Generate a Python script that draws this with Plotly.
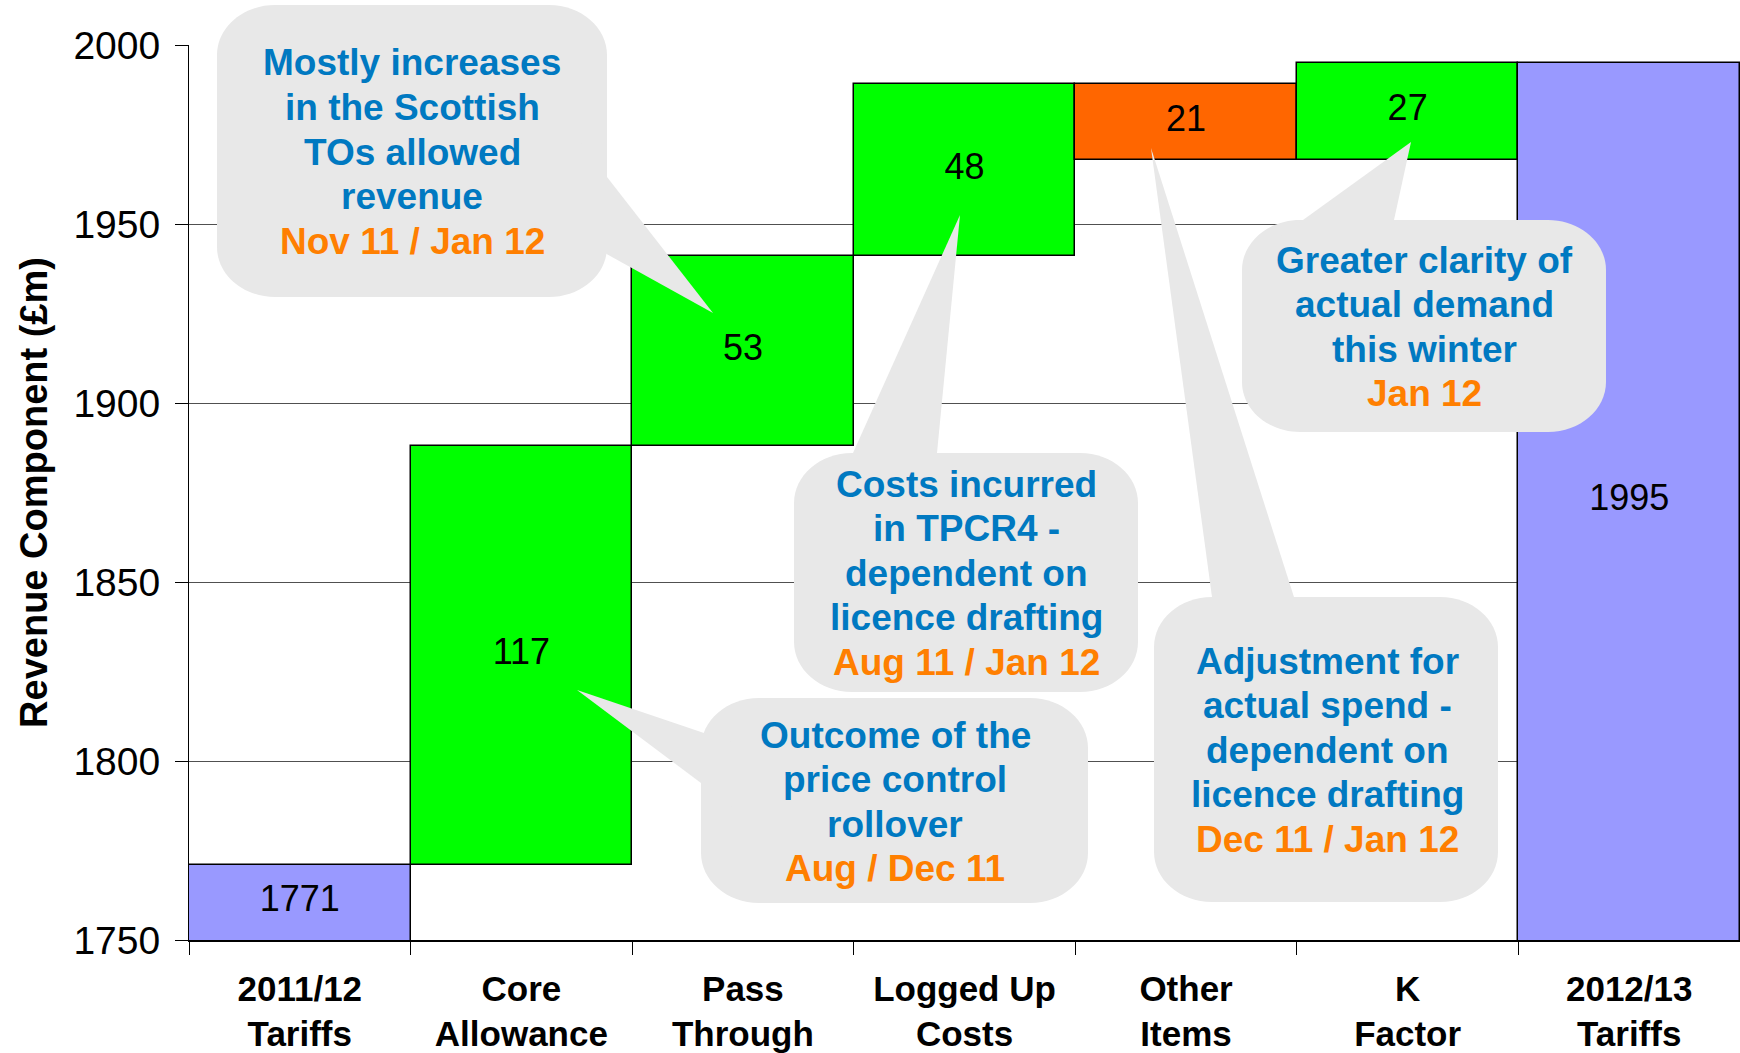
import plotly.graph_objects as go

# ---------------- data ----------------
categories = ["2011/12 Tariffs", "Core Allowance", "Pass Through", "Logged Up Costs",
              "Other Items", "K Factor", "2012/13 Tariffs"]
tick_labels = ["2011/12<br>Tariffs", "Core<br>Allowance", "Pass<br>Through", "Logged Up<br>Costs",
               "Other<br>Items", "K<br>Factor", "2012/13<br>Tariffs"]
values = [1771, 117, 53, 48, -21, 27, 1995]
measures = ["total", "increase", "increase", "increase", "decrease", "increase", "total"]
bar_labels = ["1771", "117", "53", "48", "21", "27", "1995"]
y_min, y_max = 1750, 2000
y_ticks = [1750, 1800, 1850, 1900, 1950, 2000]

callout_lines = [
    ["Mostly increases", "in the Scottish", "TOs allowed", "revenue"],
    ["Outcome of the", "price control", "rollover"],
    ["Costs incurred", "in TPCR4 -", "dependent on", "licence drafting"],
    ["Adjustment for", "actual spend -", "dependent on", "licence drafting"],
    ["Greater clarity of", "actual demand", "this winter"],
]
callout_dates = ["Nov 11 / Jan 12", "Aug / Dec 11", "Aug 11 / Jan 12", "Dec 11 / Jan 12", "Jan 12"]

# ---------------- styling ----------------
W, H = 1740, 1053
L, R, T, B = 189, 0, 45, 113
PW, PH = W - L - R, H - T - B
FONT = "Liberation Sans, Arial, Helvetica, sans-serif"
COL = {"total": "#9999FF", "increase": "#00FF00", "decrease": "#FF6600"}
BLUE, ORANGE, GREY = "#0079C1", "#FF7F00", "#E8E8E8"

# waterfall geometry from data
bases, heights, mids = [], [], []
running = 0
for v, m in zip(values, measures):
    if m == "total":
        b, h = 0, v
        running = v
    else:
        b = running if v >= 0 else running + v
        h = abs(v)
        running += v
    bases.append(b)
    heights.append(h)
    lo = max(b, y_min)
    mids.append((lo + b + h) / 2)

fig = go.Figure()
fig.add_trace(go.Bar(
    x=categories, y=heights, base=bases, width=1,
    marker=dict(color=[COL[m] for m in measures], line=dict(color="black", width=1.5)),
    showlegend=False, hoverinfo="skip"))
fig.add_trace(go.Scatter(
    x=categories, y=mids, mode="text", text=bar_labels,
    textfont=dict(family=FONT, size=36, color="black"),
    showlegend=False, hoverinfo="skip"))


def px(x):
    return (x - L) / PW


def py(y):
    return (T + PH - y) / PH


def rrect_path(x0, y0, x1, y1, rx=58, ry=50):
    k = 0.5523
    pts = [
        ("M", [(x0 + rx, y0)]),
        ("L", [(x1 - rx, y0)]),
        ("C", [(x1 - rx + k * rx, y0), (x1, y0 + ry - k * ry), (x1, y0 + ry)]),
        ("L", [(x1, y1 - ry)]),
        ("C", [(x1, y1 - ry + k * ry), (x1 - rx + k * rx, y1), (x1 - rx, y1)]),
        ("L", [(x0 + rx, y1)]),
        ("C", [(x0 + rx - k * rx, y1), (x0, y1 - ry + k * ry), (x0, y1 - ry)]),
        ("L", [(x0, y0 + ry)]),
        ("C", [(x0, y0 + ry - k * ry), (x0 + rx - k * rx, y0), (x0 + rx, y0)]),
    ]
    s = ""
    for cmd, ps in pts:
        s += cmd + " " + " ".join(f"{px(a):.5f},{py(b):.5f}" for a, b in ps) + " "
    return s + "Z"


def tri_path(tip, b1, b2, ext=1.25):
    def extend(p):
        return (tip[0] + (p[0] - tip[0]) * ext, tip[1] + (p[1] - tip[1]) * ext)
    e1, e2 = extend(b1), extend(b2)
    return (f"M {px(tip[0]):.5f},{py(tip[1]):.5f} L {px(e1[0]):.5f},{py(e1[1]):.5f} "
            f"L {px(e2[0]):.5f},{py(e2[1]):.5f} Z")


# callout layout (pixels): box, pointer tip, pointer base points, text centre x, first line y
callout_geo = [
    dict(box=(217, 5, 607, 297), tip=(713, 313), b1=(607, 177), b2=(603, 252), cx=412, y0=63),
    dict(box=(701, 698, 1088, 903), tip=(577, 690), b1=(701, 732), b2=(701, 783), cx=895, y0=735),
    dict(box=(794, 453, 1138, 692), tip=(960, 215), b1=(853, 453), b2=(937, 453), cx=966, y0=484),
    dict(box=(1154, 597, 1498, 902), tip=(1151, 148), b1=(1212, 597), b2=(1294, 597), cx=1327, y0=661),
    dict(box=(1242, 220, 1606, 432), tip=(1411, 142), b1=(1303, 220), b2=(1394, 220), cx=1424, y0=260),
]
LINE_H = 44.6

shapes = []
annotations = []
for geo, lines, date in zip(callout_geo, callout_lines, callout_dates):
    shapes.append(dict(type="path", xref="paper", yref="paper", layer="above",
                       path=rrect_path(*geo["box"]), fillcolor=GREY, line=dict(width=0)))
    shapes.append(dict(type="path", xref="paper", yref="paper", layer="above",
                       path=tri_path(geo["tip"], geo["b1"], geo["b2"]), fillcolor=GREY,
                       line=dict(width=0)))
    all_lines = [(t, BLUE) for t in lines] + [(date, ORANGE)]
    for i, (t, c) in enumerate(all_lines):
        annotations.append(dict(
            xref="paper", yref="paper", x=px(geo["cx"]), y=py(geo["y0"] + i * LINE_H),
            xanchor="center", yanchor="middle", showarrow=False, text=t,
            font=dict(family=FONT, size=37, color=c, weight="bold")))

fig.update_layout(
    width=W, height=H, margin=dict(l=L, r=R, t=T, b=B, autoexpand=False),
    paper_bgcolor="white", plot_bgcolor="white", bargap=0,
    shapes=shapes, annotations=annotations,
    xaxis=dict(type="category", categoryorder="array", categoryarray=categories,
               tickvals=categories, ticktext=tick_labels,
               tickson="boundaries", ticks="outside", ticklen=13, tickcolor="black",
               showline=True, linecolor="black", linewidth=1.5, showgrid=False,
               tickfont=dict(family=FONT, size=35, color="black", weight="bold"),
               ticklabelstandoff=17, range=[-0.5, 6.5], automargin=False),
    yaxis=dict(range=[y_min, y_max], tickvals=y_ticks, ticks="outside", ticklen=13,
               tickcolor="black", showline=True, linecolor="black", linewidth=1,
               showgrid=True, gridcolor="#505050", gridwidth=1, zeroline=False,
               tickfont=dict(family=FONT, size=39, color="black"),
               ticklabelstandoff=7, automargin=False,
               title=dict(text="Revenue Component (£m)", standoff=14,
                          font=dict(family=FONT, size=38, color="black", weight="bold"))),
)

fig.write_html("out.html", config={"displayModeBar": False},
               post_script="document.body.style.margin='0';document.body.style.overflow='hidden';")
